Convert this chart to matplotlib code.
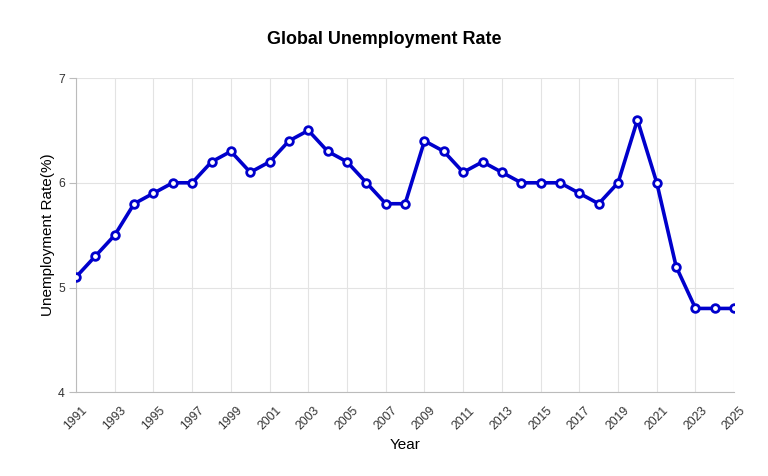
import matplotlib
matplotlib.use("Agg")
import matplotlib.pyplot as plt

plt.rcParams['font.family'] = ['Liberation Sans', 'DejaVu Sans']

years = list(range(1991, 2026))
rates = [5.1, 5.3, 5.5, 5.8, 5.9, 6.0, 6.0, 6.2, 6.3, 6.1,
         6.2, 6.4, 6.5, 6.3, 6.2, 6.0, 5.8, 5.8, 6.4, 6.3,
         6.1, 6.2, 6.1, 6.0, 6.0, 6.0, 5.9, 5.8, 6.0, 6.6,
         6.0, 5.2, 4.8, 4.8, 4.8]
xticks = list(range(1991, 2026, 2))
yticks = [4, 5, 6, 7]

fig = plt.figure(figsize=(7.68, 4.76), dpi=100)
ax = fig.add_axes([0.099, 0.176, 0.857, 0.66])

ax.plot(years, rates, color='#0000CC', linewidth=2.6, marker='o', markersize=5.5,
        markerfacecolor='white', markeredgecolor='#0000CC', markeredgewidth=2, zorder=3)

ax.set_xlim(1991, 2025)
ax.set_ylim(4, 7)
ax.set_xticks(xticks)
ax.set_xticklabels([str(y) for y in xticks], rotation=45, fontsize=8.8, color='#333333')
ax.set_yticks(yticks)
ax.set_yticklabels([str(y) for y in yticks], fontsize=8.8, color='#333333')
ax.grid(True, color='#e3e3e3', linewidth=0.8)
ax.set_axisbelow(True)
for s in ['top', 'right']:
    ax.spines[s].set_visible(False)
for s in ['left', 'bottom']:
    ax.spines[s].set_color('#bbbbbb')
ax.tick_params(axis='x', length=0, pad=9)
ax.tick_params(axis='y', length=5, color='#bbbbbb', pad=3)
for lab in ax.get_xticklabels():
    lab.set_ha('center')

ax.set_xlabel('Year', fontsize=11, labelpad=4)
ax.set_ylabel('Unemployment Rate(%)', fontsize=11, labelpad=2)
fig.suptitle('Global Unemployment Rate', fontsize=12.9, fontweight='bold', y=0.935)

fig.savefig('out.png', dpi=100)
